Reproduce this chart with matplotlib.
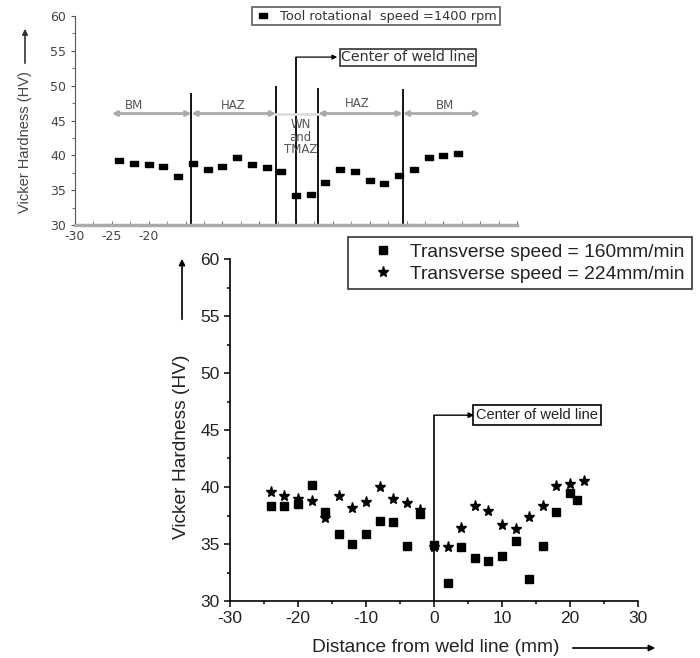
import matplotlib.pyplot as plt
from matplotlib.patches import Rectangle, FancyArrowPatch
from matplotlib.ticker import MultipleLocator

plt.rcParams['font.family'] = ['Liberation Sans', 'DejaVu Sans']
plt.rcParams['axes.unicode_minus'] = False

# top inset: tool rotational speed 1400 rpm
top_x = [-24, -22, -20, -18, -16, -14, -12, -10, -8, -6, -4, -2,
         0, 2, 4, 6, 8, 10, 12, 14, 16, 18, 20, 22]
top_hv = [39.3, 38.9, 38.7, 38.4, 37.0, 38.9, 38.0, 38.4, 39.7, 38.75, 38.35, 37.7,
          34.3, 34.5, 36.2, 38.0, 37.7, 36.4, 36.05, 37.2, 38.0, 39.8, 40.0, 40.3]
zone_lines = [-14.2, -2.7, 0, 3.0, 14.5]
zone_tops = [49.0, 50.0, 54.1, 49.6, 49.5]
zone_spans = [(-25, -14.2), (-14.2, -2.7), (3.0, 14.5), (14.5, 25)]
zone_labels = [("BM", -22, 47.1), ("HAZ", -8.5, 47.1), ("WN\nand\nTMAZ", 0.6, 42.6),
               ("HAZ", 8.3, 47.4), ("BM", 20.2, 47.2)]

# main plot: two transverse speeds
x160 = [-24, -22, -20, -18, -16, -14, -12, -10, -8, -6, -4, -2,
        0, 2, 4, 6, 8, 10, 12, 14, 16, 18, 20, 21]
hv160 = [38.3, 38.3, 38.5, 40.15, 37.8, 35.85, 34.97, 35.85, 37.05, 36.9, 34.8, 37.6,
         34.9, 31.55, 34.7, 33.8, 33.5, 33.95, 35.3, 31.9, 34.8, 37.8, 39.5, 38.9]
x224 = [-24, -22, -20, -18, -16, -14, -12, -10, -8, -6, -4, -2,
        0, 2, 4, 6, 8, 10, 12, 14, 16, 18, 20, 22]
hv224 = [39.56, 39.2, 38.95, 38.8, 37.3, 39.2, 38.2, 38.7, 40.0, 38.95, 38.6, 38.0,
         34.7, 34.7, 36.4, 38.3, 37.9, 36.7, 36.3, 37.4, 38.3, 40.05, 40.3, 40.55]

W, H = 700, 658
fig = plt.figure(figsize=(7, 6.58), dpi=100)


def fx(px):
    return px / W


def fy(py):
    return 1 - py / H


gray = '#444444'
wide = ['DejaVu Sans']

# ---- top chart ----
at = fig.add_axes([fx(75), fy(225), fx(517) - fx(75), fy(16) - fy(225)])
at.set_zorder(0)
at.set_xlim(-30, 30)
at.set_ylim(30, 60)
for s in ['top', 'right']:
    at.spines[s].set_visible(False)
at.spines['left'].set_color('#555555')
at.spines['bottom'].set_color('#aaaaaa')
at.spines['bottom'].set_linewidth(2.5)
at.xaxis.set_major_locator(MultipleLocator(5))
at.xaxis.set_minor_locator(MultipleLocator(2.5))
at.yaxis.set_major_locator(MultipleLocator(5))
at.yaxis.set_minor_locator(MultipleLocator(2.5))
at.tick_params(axis='y', which='both', direction='out', colors='#555555',
               labelcolor=gray, length=3)
at.tick_params(axis='y', which='minor', length=2)
at.tick_params(axis='x', which='both', direction='in', colors='#777777',
               labelcolor=gray, length=3)
for lab in at.get_xticklabels() + at.get_yticklabels():
    lab.set_family(wide)
    lab.set_fontsize(9)

dash = [(-1, -0.6), (1, -0.6), (1, 0.6), (-1, 0.6), (-1, -0.6)]
at.plot(top_x, top_hv, linestyle='none', marker=dash, markersize=6,
        color='black', label='Tool rotational  speed =1400 rpm')

at.vlines(zone_lines, 30, zone_tops, colors='black', linewidth=1.3, clip_on=False)
at.plot([-2.7, 3.0], [46, 46], color='#dddddd', linewidth=2)
for a, b in zone_spans:
    at.annotate('', xy=(a, 46), xytext=(b, 46),
                arrowprops=dict(arrowstyle='<|-|>', color='#aaaaaa', lw=2,
                                mutation_scale=7, shrinkA=0, shrinkB=0))
for txt, x, y in zone_labels:
    at.text(x, y, txt, ha='center', va='center', fontsize=8.5, color='#555555',
            linespacing=0.95, family=wide)

at.annotate('', xy=(5.6, 54.1), xytext=(0, 54.1),
            arrowprops=dict(arrowstyle='-|>', color='black', lw=0.9,
                            mutation_scale=7, shrinkA=0, shrinkB=0))
at.text(6.1, 54.1, 'Center of weld line', ha='left', va='center', fontsize=10.3,
        color='#333333', family=wide,
        bbox=dict(boxstyle='square,pad=0.1', fc='white', ec='#333333', lw=1.2))

fig.text(fx(25), fy(142), 'Vicker Hardness (HV)', rotation=90, ha='center',
         va='center', fontsize=10.5, color=gray)
fig.add_artist(FancyArrowPatch(
    (fx(25), fy(66)), (fx(25), fy(26)), transform=fig.transFigure,
    arrowstyle='-|>', mutation_scale=8, color='#333333', lw=1.2))

leg_t = at.legend(loc='upper left', bbox_to_anchor=(fx(252), fy(7)),
                  bbox_transform=fig.transFigure, frameon=True,
                  prop={'family': wide, 'size': 9.3},
                  fancybox=False, edgecolor='#444444', borderpad=0.2,
                  handletextpad=0.7, handlelength=1.3, borderaxespad=0)
leg_t.get_frame().set_linewidth(1.3)
for t in leg_t.get_texts():
    t.set_color('#333333')

# white cover under the main plot
fig.add_artist(Rectangle((fx(163), 0), 1 - fx(163), fy(229), transform=fig.transFigure,
                         facecolor='white', edgecolor='none', zorder=1))

# ---- main chart ----
ab = fig.add_axes([fx(230), fy(601), fx(638) - fx(230), fy(259) - fy(601)])
ab.set_zorder(2)
ab.set_xlim(-30, 30)
ab.set_ylim(30, 60)
ab.patch.set_alpha(0)
for s in ['top', 'right']:
    ab.spines[s].set_visible(False)
ab.spines['left'].set_linewidth(1.2)
ab.spines['bottom'].set_linewidth(1.2)
ab.xaxis.set_major_locator(MultipleLocator(10))
ab.xaxis.set_minor_locator(MultipleLocator(5))
ab.yaxis.set_major_locator(MultipleLocator(5))
ab.yaxis.set_minor_locator(MultipleLocator(2.5))
ab.tick_params(which='both', direction='out', labelsize=12.5, colors='black',
               labelcolor='#222222', width=1.1)
ab.tick_params(which='major', length=4)
ab.tick_params(which='minor', length=2.5)

ab.plot(x160, hv160, linestyle='none', marker='s', markersize=5.5, color='black',
        label='Transverse speed = 160mm/min')
ab.plot(x224, hv224, linestyle='none', marker='*', markersize=8, color='black',
        label='Transverse speed = 224mm/min')

ab.vlines([0], 30, 46.3, colors='black', linewidth=1.2)
ab.annotate('', xy=(5.9, 46.3), xytext=(0, 46.3),
            arrowprops=dict(arrowstyle='-|>', color='black', lw=1.0,
                            mutation_scale=8, shrinkA=0, shrinkB=0))
ab.text(6.2, 46.3, 'Center of weld line', ha='left', va='center', fontsize=10.5,
        color='#222222',
        bbox=dict(boxstyle='square,pad=0.2', fc='white', ec='black', lw=1.2))

leg_b = ab.legend(loc='upper left', bbox_to_anchor=(fx(348), fy(237)),
                  bbox_transform=fig.transFigure, fontsize=13.8, frameon=True,
                  fancybox=False, edgecolor='black', borderpad=0.35,
                  handletextpad=0.0, handlelength=2.9, borderaxespad=0,
                  labelspacing=0.22)
leg_b.get_frame().set_linewidth(1.2)
for t in leg_b.get_texts():
    t.set_color('#222222')

fig.text(fx(436), fy(648), 'Distance from weld line (mm)', ha='center', va='center',
         fontsize=13.8, color='#222222')
fig.add_artist(FancyArrowPatch(
    (fx(570), fy(648)), (fx(658), fy(648)), transform=fig.transFigure,
    arrowstyle='-|>', mutation_scale=9, color='black', lw=1.2, zorder=3))

fig.text(fx(182), fy(447), 'Vicker Hardness (HV)', rotation=90, ha='center',
         va='center', fontsize=13.8, color='#222222', zorder=3)
fig.add_artist(FancyArrowPatch(
    (fx(182), fy(322)), (fx(182), fy(256)), transform=fig.transFigure,
    arrowstyle='-|>', mutation_scale=9, color='black', lw=1.2, zorder=3))

fig.savefig('out.png', dpi=100)
